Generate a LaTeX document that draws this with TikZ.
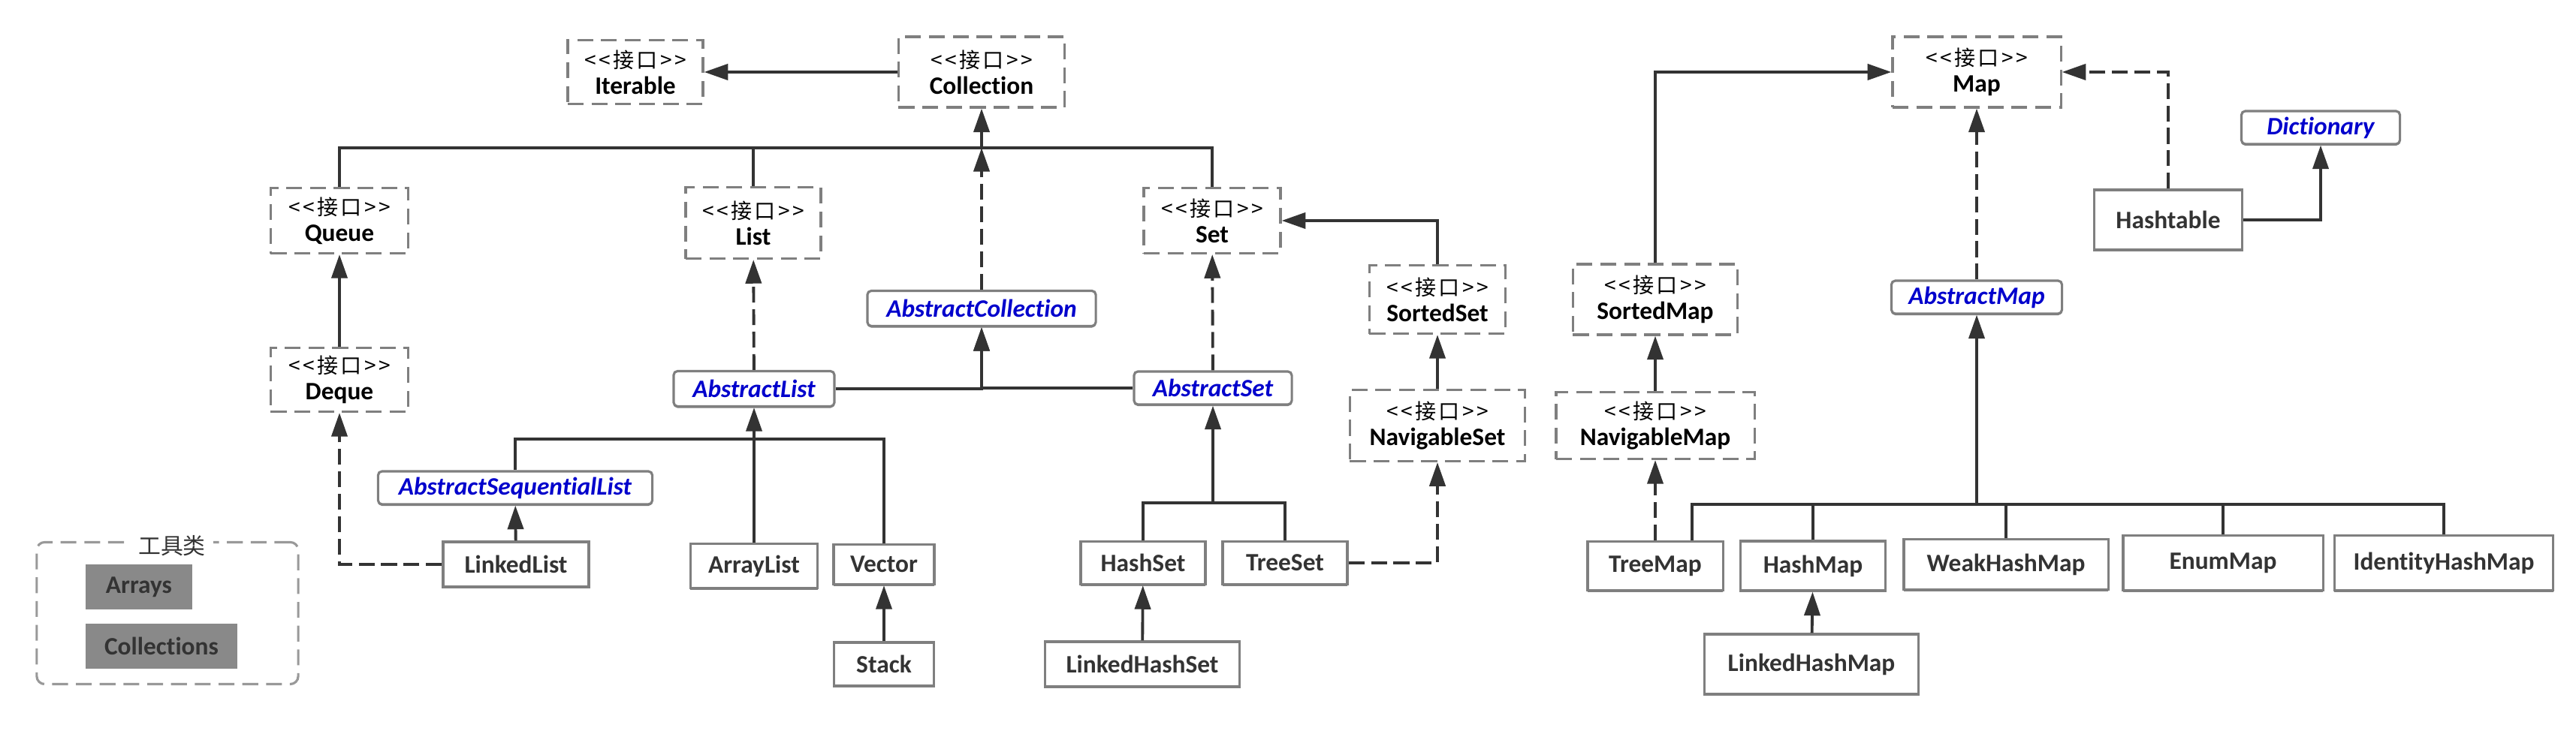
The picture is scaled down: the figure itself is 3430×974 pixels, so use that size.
\documentclass[tikz,border=0pt]{standalone}
\usepackage{fontspec}
\setmainfont{Carlito}[Ligatures=NoCommon]
\newfontfamily\cjk{Noto Sans CJK SC}[LetterSpace=12]
\newfontfamily\cjktight{Noto Sans CJK SC}
\usetikzlibrary{arrows.meta, shadows}
\definecolor{linegray}{HTML}{333333}
\definecolor{boxgray}{HTML}{7F7F7F}
\definecolor{absblue}{HTML}{0000CC}
\definecolor{toolfill}{HTML}{898989}
\newcommand{\iname}[1]{{\cjk\fontsize{8}{9}\selectfont <<接口>>}\\\textbf{#1}}
\tikzset{x=0.01cm, y=-0.01cm, % one unit is one pixel of the sketch, y runs down
  iface/.style={draw=boxgray, line width=0.9pt, dash pattern=on 6pt off 3pt, fill=white,
    align=center, inner sep=0pt, font=\fontsize{9.5}{10}\selectfont}, % interfaces
  abstr/.style={draw=boxgray, line width=0.9pt, rounded corners=1.5pt, fill=white, inner sep=0pt,
    minimum height=0.44cm, text=absblue, font=\fontsize{9.5}{10}\selectfont\bfseries\itshape,
    drop shadow={shadow xshift=0pt, shadow yshift=-0.6pt, fill=boxgray, opacity=1}}, % abstract classes
  cls/.style={draw=boxgray, line width=0.9pt, fill=white, inner sep=0pt, text=linegray,
    font=\fontsize{9.5}{10}\selectfont\bfseries,
    drop shadow={shadow xshift=0pt, shadow yshift=-0.6pt, fill=boxgray, opacity=1}}, % classes
  tool/.style={fill=toolfill, inner sep=0pt, text=linegray, font=\fontsize{9.5}{10}\selectfont\bfseries},
  bus/.style={draw=linegray, line width=1.1pt}, % plain joining line
  gen/.style={bus, -{Triangle[length=9pt, width=6pt]}}, % extends
  real/.style={gen, dash pattern=on 6pt off 2.5pt}, % implements
}
\begin{document}
\begin{tikzpicture}
  \useasboundingbox (0,0) rectangle (3430,974);
  % interfaces
  \node[iface, minimum width=1.80cm, minimum height=0.85cm] (iterable) at (846,96) {\iname{Iterable}};
  \node[iface, minimum width=2.21cm, minimum height=0.94cm] (collection) at (1307,96) {\iname{Collection}};
  \node[iface, minimum width=1.83cm, minimum height=0.87cm] (queue) at (452,294) {\iname{Queue}};
  \node[iface, minimum width=1.80cm, minimum height=0.95cm] (list) at (1003,297) {\iname{List}};
  \node[iface, minimum width=1.82cm, minimum height=0.87cm] (set) at (1614,294) {\iname{Set}};
  \node[iface, minimum width=1.83cm, minimum height=0.85cm] (deque) at (452,506) {\iname{Deque}};
  \node[iface, minimum width=1.81cm, minimum height=0.91cm] (sortedset) at (1914,399) {\iname{SortedSet}};
  \node[iface, minimum width=2.33cm, minimum height=0.95cm] (navset) at (1914,567) {\iname{NavigableSet}};
  \node[iface, minimum width=2.24cm, minimum height=0.94cm] (map) at (2632,96) {\iname{Map}};
  \node[iface, minimum width=2.19cm, minimum height=0.94cm] (sortedmap) at (2204,399) {\iname{SortedMap}};
  \node[iface, minimum width=2.64cm, minimum height=0.89cm] (navmap) at (2204,567) {\iname{NavigableMap}};
  % abstract classes
  \node[abstr, minimum width=3.04cm, minimum height=0.47cm] (abscoll) at (1307,411) {AbstractCollection};
  \node[abstr, minimum width=2.14cm, minimum height=0.47cm] (abslist) at (1004,518) {AbstractList};
  \node[abstr, minimum width=2.10cm] (absset) at (1615,517) {AbstractSet};
  \node[abstr, minimum width=3.65cm] (absseq) at (686,650) {AbstractSequentialList};
  \node[abstr, minimum width=2.27cm] (absmap) at (2632,396) {AbstractMap};
  \node[abstr, minimum width=2.11cm] (dict) at (3090,170) {Dictionary};
  % classes
  \node[cls, minimum width=1.94cm, minimum height=0.60cm] (linkedlist) at (687,752) {LinkedList};
  \node[cls, minimum width=1.69cm, minimum height=0.59cm] (arraylist) at (1004,754) {ArrayList};
  \node[cls, minimum width=1.34cm, minimum height=0.53cm] (vector) at (1177,752) {Vector};
  \node[cls, minimum width=1.33cm, minimum height=0.58cm] (stack) at (1177,885) {Stack};
  \node[cls, minimum width=1.66cm, minimum height=0.57cm] (hashset) at (1522,750) {HashSet};
  \node[cls, minimum width=1.66cm, minimum height=0.57cm] (treeset) at (1711,750) {TreeSet};
  \node[cls, minimum width=2.59cm, minimum height=0.60cm] (lhashset) at (1521,885) {LinkedHashSet};
  \node[cls, minimum width=1.97cm, minimum height=0.80cm] (hashtable) at (2887,293) {Hashtable};
  \node[cls, minimum width=1.80cm, minimum height=0.65cm] (treemap) at (2204,754) {TreeMap};
  \node[cls, minimum width=1.93cm, minimum height=0.66cm] (hashmap) at (2414,754) {HashMap};
  \node[cls, minimum width=2.72cm, minimum height=0.67cm] (weakhm) at (2671,752) {WeakHashMap};
  \node[cls, minimum width=2.66cm, minimum height=0.73cm] (enummap) at (2960,750) {EnumMap};
  \node[cls, minimum width=2.91cm, minimum height=0.73cm] (idhm) at (3254,750) {IdentityHashMap};
  \node[cls, minimum width=2.85cm, minimum height=0.80cm] (lhashmap) at (2412,885) {LinkedHashMap};
  % tool classes
  \node[draw=boxgray!80, line width=0.9pt, dash pattern=on 6pt off 3pt, rounded corners=3pt,
    minimum width=3.48cm, minimum height=1.89cm] (tools) at (223,817) {};
  \node[fill=white, inner xsep=3pt, inner ysep=0pt, text=linegray, font=\cjktight\fontsize{8.5}{9}\selectfont] (tooltitle) at (229,727) {工具类};
  \node[tool, minimum width=1.42cm, minimum height=0.59cm] (arrays) at (185,782) {Arrays};
  \node[tool, minimum width=2.02cm, minimum height=0.60cm] (collections) at (215,861) {Collections};
  % junction points
  \coordinate (cbus) at (1307,197);
  \coordinate (lbus) at (1004,585);
  \coordinate (sbus) at (1615,670);
  \coordinate (mbus) at (2632,672);
  % collection side
  \draw[gen] (collection) -- (iterable);
  \draw[real] (abscoll.north) -- (cbus);
  \draw[bus] (queue.north) |- (cbus);
  \draw[bus] (list.north) |- (cbus);
  \draw[bus] (set.north) |- (cbus);
  \draw[gen] (cbus) -- (collection.south);
  \draw[gen] (deque) -- (queue);
  \draw[real] (abslist) -- (list);
  \draw[real] (absset) -- (set);
  \draw[gen] (abslist.east) -| (abscoll.south);
  \draw[gen] (absset.west) -| (abscoll.south);
  \draw[gen] (sortedset.north) |- (set.east);
  \draw[gen] (navset) -- (sortedset);
  \draw[real] (treeset.east) -| (navset.south);
  \draw[bus] (hashset.north) |- (sbus);
  \draw[bus] (treeset.north) |- (sbus);
  \draw[gen] (sbus) -- (absset.south);
  \draw[gen] (lhashset) -- (hashset);
  \draw[bus] (absseq.north) |- (lbus);
  \draw[bus] (vector.north) |- (lbus);
  \draw[gen] (arraylist.north) -- (abslist.south);
  \draw[gen] (linkedlist) -- (absseq);
  \draw[real] (linkedlist.west) -| (deque.south);
  \draw[gen] (stack) -- (vector);
  % map side
  \draw[gen] (sortedmap.north) |- (map.west);
  \draw[gen] (navmap) -- (sortedmap);
  \draw[real] (treemap) -- (navmap);
  \draw[bus] ([xshift=0.49cm]treemap.north) |- (mbus);
  \foreach \cl in {hashmap, weakhm, enummap, idhm}
    \draw[bus] (\cl.north) |- (mbus);
  \draw[gen] (mbus) -- (absmap.south);
  \draw[gen] (lhashmap) -- (hashmap);
  \draw[real] (absmap) -- (map);
  \draw[real] (hashtable.north) |- (map.east);
  \draw[gen] (hashtable.east) -| (dict.south);
\end{tikzpicture}
\end{document}
